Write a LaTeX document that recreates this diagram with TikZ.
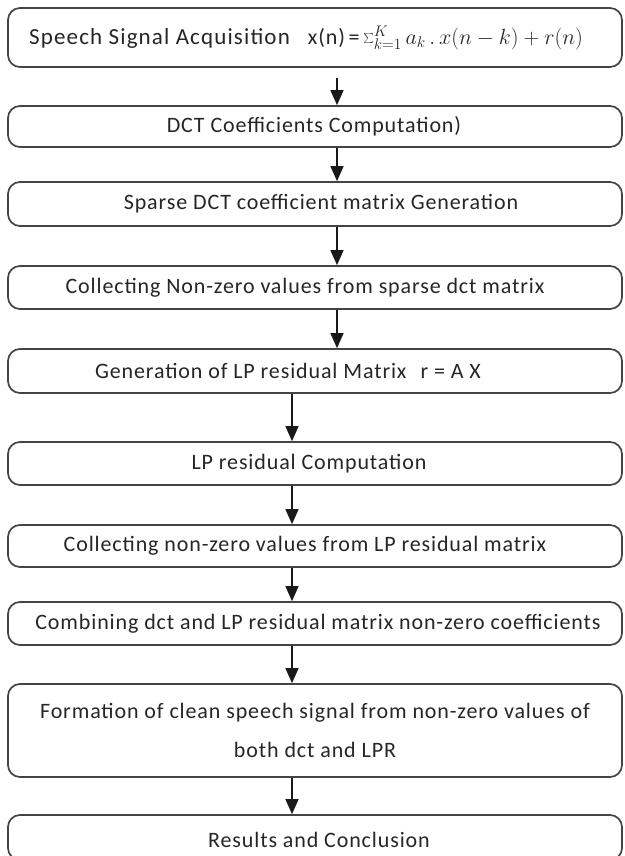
\documentclass[tikz,border=0pt]{standalone}
\usepackage{fix-cm}
\usepackage{fontspec}
\setmainfont{Carlito}[LetterSpace=4]
\usetikzlibrary{arrows.meta}
\definecolor{boxline}{HTML}{444444}
\definecolor{txtcol}{HTML}{262626}
\tikzset{
  stepbox/.style={draw=boxline, line width=1.7pt, rounded corners=12pt, minimum width=614pt, inner sep=0pt, fill=white},
  txt/.style={inner sep=0pt, text=txtcol, font=\fontsize{22}{30}\selectfont, align=center},
  arr/.style={draw=black!90, line width=1.3pt, -{Triangle[width=13pt,length=15pt]}}
}
\begin{document}
\begin{tikzpicture}[x=1pt,y=-1pt]
\useasboundingbox (0,0) rectangle (624,856);
\fill[white] (0,0) rectangle (624,856);
% boxes
\node[stepbox, minimum height=59pt] (b1) at (315,37.5) {};
\node[stepbox, minimum height=41pt] (b2) at (315,126.5) {};
\node[stepbox, minimum height=44pt] (b3) at (315,204) {};
\node[stepbox, minimum height=43pt] (b4) at (315,287.5) {};
\node[stepbox, minimum height=44pt] (b5) at (315,371) {};
\node[stepbox, minimum height=43pt] (b6) at (315,463.5) {};
\node[stepbox, minimum height=42pt] (b7) at (315,546) {};
\node[stepbox, minimum height=43pt] (b8) at (315,623.5) {};
\node[stepbox, minimum height=93pt] (b9) at (315,730.5) {};
\node[stepbox, minimum height=45pt] (b10) at (315,837.5) {};
% texts
\node[txt, anchor=west] (t1) at (29,37.5) {{\fontsize{23}{30}\selectfont\addfontfeatures{LetterSpace=5}Speech Signal Acquisition}\hspace{18pt}x(n)\,=\,{\fontsize{22}{26}\selectfont$\sum_{k=1}^{K} a_k \,.\, x(n-k) + r(n)$}};
\node[txt] (t2) at (314,126.5) {DCT Coefficients Computation)};
\node[txt] (t3) at (321,204) {Sparse DCT coefficient matrix Generation};
\node[txt] (t4) at (305,287.5) {Collecting Non-zero values from sparse dct matrix};
\node[txt] (t5) at (288,371) {Generation of LP residual Matrix\hspace{14pt}r = A X};
\node[txt] (t6) at (309,463.5) {LP residual Computation};
\node[txt] (t7) at (305,546) {Collecting non-zero values from LP residual matrix};
\node[txt] (t8) at (318,623.5) {Combining dct and LP residual matrix non-zero coefficients};
\node[txt, font=\fontsize{22}{39}\selectfont] (t9) at (315,730.5) {Formation of clean speech signal from non-zero values of\\both dct and LPR};
\node[txt] (t10) at (319,840) {Results and Conclusion};
% arrows
\coordinate (s1) at (337,78);
\coordinate (s2) at (292,0);
\draw[arr] (s1) -- (b2.north -| s1);
\draw[arr] (b2.south -| s1) -- (b3.north -| s1);
\draw[arr] (b3.south -| s1) -- (b4.north -| s1);
\draw[arr] (b4.south -| s1) -- (b5.north -| s1);
\draw[arr] (b5.south -| s2) -- (b6.north -| s2);
\draw[arr] (b6.south -| s2) -- (b7.north -| s2);
\draw[arr] (b7.south -| s2) -- (b8.north -| s2);
\draw[arr] (b8.south -| s2) -- (b9.north -| s2);
\draw[arr] (b9.south -| s2) -- (b10.north -| s2);
\end{tikzpicture}
\end{document}
